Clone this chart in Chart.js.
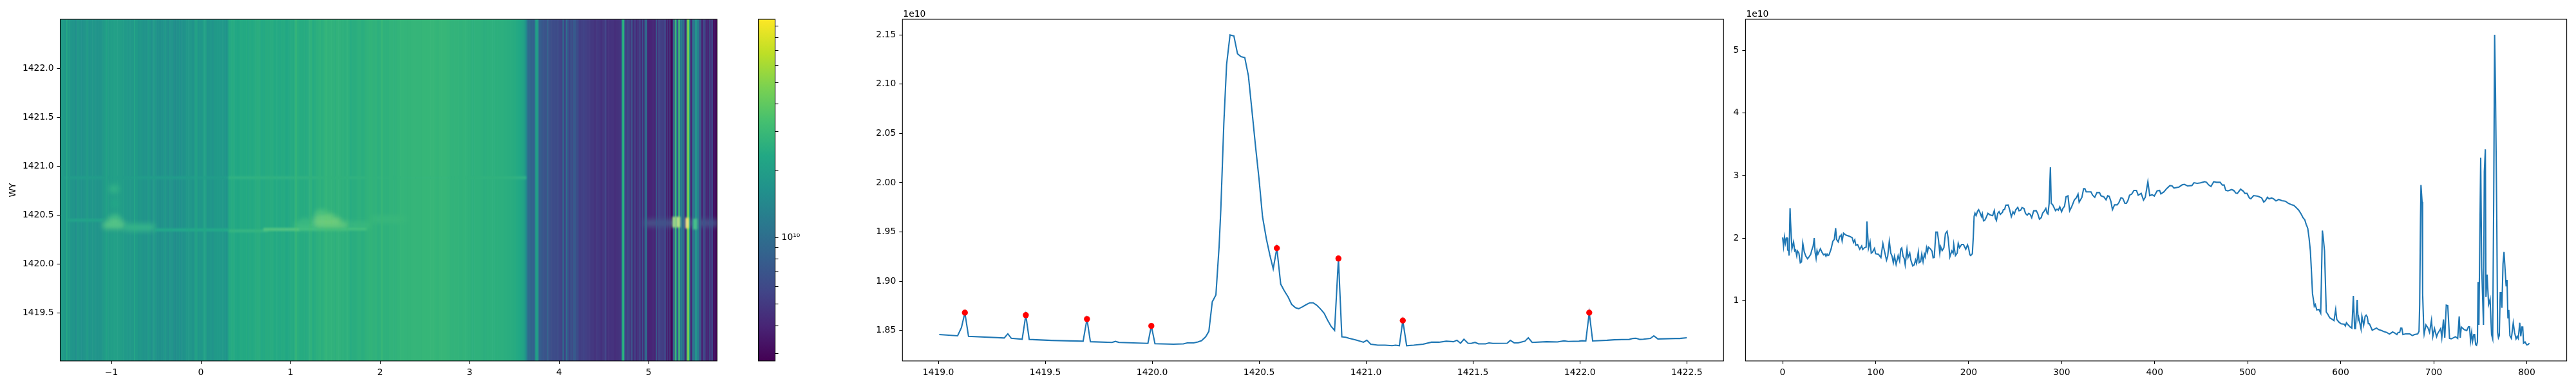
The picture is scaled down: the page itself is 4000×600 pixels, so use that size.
<!DOCTYPE html>
<html>
<head>
<meta charset="utf-8">
<title>WY spectrum</title>
<script src="https://cdn.jsdelivr.net/npm/chart.js@4/dist/chart.umd.min.js"></script>
<style>
  html, body { margin: 0; padding: 0; background: #fff; }
  body { position: relative; width: 4000px; height: 600px; overflow: hidden; }
  canvas { position: absolute; top: 0; }
</style>
</head>
<body>
<canvas id="heatChart" width="1130" height="600" style="left:0"></canvas>
<canvas id="barChart" width="90" height="600" style="left:1170px"></canvas>
<canvas id="profileChart" width="1345" height="600" style="left:1340px"></canvas>
<canvas id="spectrumChart" width="1320" height="600" style="left:2680px"></canvas>
<script>
// spectrum, values in units of 1e10, one vertex per row entry
const spectrumIdx = [
  0,1,2,3,4,5,5.5,6.5,7,8,
  8.5,10,11.8,13,14,15.2,16,17.5,19,20.3,
  21.7,23.3,25,26.8,28.6,30.2,31.4,32.8,34,34.9,
  36,37,38,40.6,42.2,44,45.7,46.6,47.8,48.7,
  49.9,52.2,54,55.6,57,58,59.8,61.4,62.3,63,
  64,65.5,67.9,71.8,74.8,76.2,77.6,78.7,80.6,82.9,
  85,86.1,88,89.8,90.7,92.3,94,95.3,96.7,98.8,
  100,103,105.7,107.8,109.2,111.7,113,114.7,116.3,117.7,
  119,120.3,122,124.2,125.8,127,128.1,129.5,130.7,131.8,
  133.7,134.8,136.7,138,139.9,141.5,142.9,144,145.9,146.8,
  148.4,149.6,151,152.4,153.3,154.7,155.8,156.7,158.8,160.7,
  161.8,163,164.8,166.4,167.6,169,169.9,171.5,173.4,175,
  176.8,178,179.8,181.9,183.3,184,185.8,187.7,188.8,190.2,
  192.5,194.4,196.9,198.8,199.9,201.3,202.2,204,205,205.9,
  206.8,208,209.6,210.8,211.9,213.8,214.7,216,217.2,218.8,
  220.7,223,225.8,227.6,228.8,229.9,231.3,232.7,234.1,236.4,
  237.3,238.7,239.9,242.6,244.2,245.9,247.7,249.1,250.7,252.8,
  254.2,256,257.4,259.5,261.1,263,264.6,266.2,267.8,269.9,
  272.6,274.2,276.1,278,279.6,281.2,283,284.4,285.3,286.5,
  287.9,288.8,290.4,293.4,295,296.4,298,299.9,301.5,303.1,
  304.7,306.8,308.6,310.7,313.7,315.8,317.6,318.8,321.8,323.6,
  325,326.4,329.6,331.5,333.3,335.6,337.9,340.7,342.3,345.3,
  347.7,349.5,351.1,353,354.6,356.9,359.7,361.5,363.8,365.7,
  368,369.6,371.2,373,375.3,377.7,380.4,382.3,385.5,388,
  389.9,392.7,394.7,397.3,399.6,402.6,405.3,406.7,410,412.7,
  416.4,418.7,420.8,426.1,429.6,431.9,435.3,440,442.3,445.7,
  449.2,453.8,455.7,458,460.5,463.5,466.5,470.4,472.7,474.6,
  476.4,478.7,482.7,485,487.3,488.9,492.4,495.4,497,499.3,
  501.8,503.4,506.4,511,515,517.3,519.1,521.2,523,525.8,
  528.1,530.4,533.4,536.9,540.4,543.8,547.3,549.6,551.9,554.9,
  557.7,559.5,561.4,562.8,564.6,566,567.4,568.6,569.7,571.1,
  571.6,572.7,574.3,576.6,578.5,579.2,580.3,581.3,582.6,584.5,
  586.1,588.2,591.2,592.8,594.6,595.8,598.1,600.4,603.9,605,
  606.2,608,610.3,612,613.6,615,615.9,617.7,618.7,619.3,
  620.7,621.9,622.8,624.7,626.3,627.4,628.6,629.7,630.9,633.9,
  636.2,638.5,640.8,644.3,646.6,649.4,652.4,655.8,658.1,660.4,
  661.8,663.4,664.6,665.7,666.9,669.7,674.3,677,679.4,682.8,
  684.2,684.9,685.8,686.3,687.5,688.1,689.3,689.7,691.6,693.9,
  695.5,697.6,699,700.8,703.1,704.3,707.5,708.7,710.5,711.9,
  713.5,715.1,717,718.8,720.4,723.4,725.8,727.4,728.5,729.7,
  732.7,735.5,737.3,738.5,739.6,740.8,741.7,743.1,744,745.1,
  746,747,747.7,748.6,750.5,751.6,753.5,754.4,755.5,756.2,
  757.4,759,760.6,762.2,763.4,764.5,765.5,766.4,767.8,768.7,
  769.6,770.5,771.5,772.4,773.3,774.5,775.6,777.5,777.9,778.8,
  779.8,780.7,781.9,783.5,785.5,786.9,788.5,789.7,790.9,792.5,
  793.6,794.8,795.7,796.6,798.2,800,801.2,802.9
];
const spectrumVal = [
  2.01,1.87,2.02,1.92,2.0,2.0,1.81,1.80,1.72,2.48,
  2.27,1.83,1.94,1.795,1.81,1.716,1.795,1.76,1.606,1.62,
  1.92,1.778,1.71,1.67,1.705,1.74,1.81,1.87,2.0,1.778,
  1.675,1.80,1.745,1.83,1.778,1.733,1.744,1.71,1.744,1.72,
  1.73,1.83,1.95,1.98,2.16,1.98,1.94,2.03,2.035,2.05,
  1.956,2.08,2.05,2.03,2.008,1.93,1.973,1.887,1.898,1.822,
  1.874,1.819,1.846,1.857,2.265,1.836,1.942,1.76,1.778,1.836,
  1.75,1.743,1.69,1.915,1.812,1.647,1.71,1.95,1.76,1.71,
  1.606,1.71,1.579,1.72,1.634,1.822,1.843,1.71,1.675,1.572,
  1.822,1.69,1.76,1.64,1.555,1.572,1.651,1.596,1.778,1.606,
  1.623,1.744,1.623,1.744,1.70,1.846,1.778,1.857,1.83,1.788,
  1.685,1.69,2.097,2.097,1.967,1.76,1.864,1.80,1.846,2.07,
  2.11,2.0,1.70,1.795,1.76,1.898,1.72,1.76,1.915,1.846,
  1.898,1.898,1.822,1.891,1.846,1.733,1.72,1.75,2.018,2.35,
  2.40,2.36,2.43,2.454,2.42,2.344,2.39,2.276,2.283,2.327,
  2.396,2.372,2.36,2.44,2.317,2.283,2.396,2.423,2.38,2.413,
  2.454,2.458,2.526,2.53,2.447,2.344,2.42,2.385,2.454,2.492,
  2.437,2.447,2.488,2.475,2.396,2.368,2.396,2.38,2.327,2.437,
  2.44,2.396,2.303,2.327,2.40,2.43,2.475,2.396,2.385,2.55,
  3.133,2.557,2.533,2.44,2.464,2.447,2.5,2.423,2.48,2.509,
  2.66,2.677,2.437,2.5,2.612,2.646,2.704,2.574,2.653,2.79,
  2.79,2.739,2.739,2.739,2.687,2.653,2.728,2.728,2.677,2.66,
  2.612,2.677,2.67,2.584,2.454,2.533,2.533,2.567,2.646,2.636,
  2.557,2.557,2.6,2.687,2.704,2.763,2.763,2.687,2.715,2.608,
  2.653,2.903,2.68,2.694,2.673,2.756,2.763,2.708,2.74,2.79,
  2.841,2.835,2.80,2.817,2.852,2.859,2.835,2.841,2.886,2.876,
  2.883,2.903,2.893,2.852,2.824,2.903,2.893,2.893,2.848,2.852,
  2.766,2.756,2.776,2.763,2.72,2.715,2.783,2.749,2.715,2.715,
  2.643,2.629,2.68,2.67,2.643,2.577,2.6,2.653,2.629,2.643,
  2.625,2.595,2.619,2.598,2.591,2.557,2.533,2.523,2.492,2.447,
  2.379,2.327,2.293,2.224,2.156,2.0,1.796,1.453,1.11,0.973,
  0.91,0.938,0.852,0.859,0.80,1.28,2.12,2.0,1.796,0.818,
  0.784,0.726,0.698,0.681,0.859,0.698,0.657,0.63,0.623,0.595,
  0.647,0.612,0.578,0.561,1.075,0.554,0.554,1.014,0.698,0.732,
  0.63,0.544,0.75,0.606,0.75,0.767,0.74,0.63,0.63,0.527,
  0.544,0.561,0.537,0.52,0.503,0.492,0.465,0.499,0.482,0.458,
  0.492,0.492,0.561,0.561,0.458,0.468,0.468,0.441,0.458,0.468,
  0.51,0.938,2.31,2.85,2.58,1.11,0.544,0.465,0.612,0.561,
  0.492,0.688,0.424,0.554,0.424,0.475,0.554,0.407,0.698,0.407,
  0.928,0.921,0.396,0.39,0.4,0.423,0.396,0.749,0.406,0.578,
  0.537,0.52,0.581,0.581,0.355,0.492,0.348,0.458,0.458,0.296,
  0.286,0.338,1.298,0.612,3.287,1.521,0.612,3.064,3.42,1.058,
  1.418,0.938,1.024,0.458,0.389,2.653,5.252,4.37,2.31,0.492,
  0.406,0.44,1.126,1.126,0.886,1.589,1.778,1.315,1.229,1.332,
  0.715,0.852,0.44,0.396,0.646,0.492,0.389,0.43,0.396,0.646,
  0.43,0.578,0.578,0.32,0.338,0.293,0.296,0.32
];

// wavelength profile, values in units of 1e10
const profileX = [
  1419.004,1419.09,1419.108,1419.124,1419.141,1419.308,1419.325,1419.341,1419.392,1419.409,
  1419.425,1419.528,1419.677,1419.695,1419.711,1419.812,1419.828,1419.845,1419.98,1419.996,
  1420.013,1420.1,1420.146,1420.164,1420.194,1420.214,1420.231,1420.25,1420.265,1420.281,
  1420.298,1420.313,1420.321,1420.335,1420.348,1420.364,1420.382,1420.399,1420.415,1420.433,
  1420.45,1420.469,1420.484,1420.5,1420.516,1420.534,1420.55,1420.566,1420.583,1420.601,
  1420.617,1420.636,1420.652,1420.67,1420.685,1420.703,1420.719,1420.737,1420.753,1420.77,
  1420.786,1420.804,1420.82,1420.837,1420.853,1420.871,1420.887,1420.905,1420.92,1420.956,
  1420.988,1421.004,1421.022,1421.055,1421.089,1421.122,1421.138,1421.156,1421.172,1421.19,
  1421.223,1421.267,1421.306,1421.341,1421.375,1421.409,1421.425,1421.442,1421.458,1421.477,
  1421.492,1421.51,1421.526,1421.559,1421.575,1421.593,1421.66,1421.675,1421.693,1421.711,
  1421.743,1421.759,1421.777,1421.844,1421.895,1421.926,1421.946,1421.996,1422.011,1422.028,
  1422.044,1422.06,1422.128,1422.161,1422.231,1422.248,1422.263,1422.281,1422.297,1422.33,
  1422.346,1422.365,1422.447,1422.467,1422.5
];
const profileVal = [
  1.8458,1.8445,1.8528,1.868,1.844,1.8423,1.8465,1.842,1.841,1.8655,
  1.8408,1.8398,1.839,1.8615,1.8385,1.8378,1.8388,1.8378,1.8368,1.8545,
  1.8365,1.836,1.8363,1.8373,1.8373,1.8383,1.8395,1.8435,1.849,1.879,
  1.886,1.9355,1.973,2.06,2.12,2.15,2.149,2.131,2.128,2.127,
  2.1085,2.068,2.0355,2.003,1.9655,1.943,1.9268,1.9125,1.9335,1.897,
  1.8905,1.8838,1.8765,1.873,1.872,1.874,1.876,1.878,1.878,1.8755,
  1.872,1.8675,1.8605,1.854,1.85,1.923,1.8435,1.843,1.842,1.840,
  1.838,1.84,1.836,1.835,1.835,1.8345,1.835,1.8345,1.860,1.8345,
  1.835,1.836,1.838,1.838,1.839,1.8385,1.84,1.837,1.841,1.837,
  1.8368,1.8378,1.8363,1.8363,1.8373,1.8368,1.837,1.8398,1.8373,1.8373,
  1.839,1.8425,1.8378,1.8385,1.8383,1.8393,1.8388,1.839,1.8395,1.8393,
  1.868,1.8393,1.84,1.8405,1.8408,1.8418,1.842,1.8408,1.841,1.8418,
  1.8445,1.8413,1.8418,1.8418,1.8425
];
const peakX = [1419.124,1419.409,1419.695,1419.996,1420.583,1420.871,1421.172,1422.044];
const peakVal = [1.868,1.8655,1.8615,1.8545,1.9335,1.923,1.860,1.868];

// bright patches over the stripes of the image: x from, x to, row, value (1e10)
const blobX0 = [-1.09,-1.03,-1.00,-1.02,-0.99,-0.85,1.05,1.10,1.27,1.27,1.28,1.29,1.65,1.90,4.95];
const blobX1 = [-0.85,-0.90,-0.92,-0.92,-0.93,-0.52,1.27,1.25,1.64,1.55,1.48,1.40,1.90,2.30,5.77];
const blobY  = [1420.40,1420.44,1420.47,1420.77,1420.62,1420.375,1420.39,1420.43,1420.40,1420.44,1420.48,1420.52,1420.40,1420.46,1420.42];
const blobV  = [3.8,3.8,3.2,2.8,2.35,2.9,3.3,3.0,4.0,4.6,4.2,3.5,3.0,2.95,0.72];
const lineX0 = [-1.57,0.31,-1.50,-0.52,0.31,0.70,1.10];
const lineX1 = [0.31,3.63,-1.00,0.31,0.75,1.10,1.85];
const lineY  = [1420.884,1420.884,1420.45,1420.35,1420.34,1420.355,1420.36];
const lineV  = [1.98,2.72,2.2,2.35,2.85,3.7,3.3];
const hotX0 = [5.27,5.31,5.415,5.50];
const hotX1 = [5.30,5.35,5.445,5.54];
const hotY  = [1420.43,1420.43,1420.42,1420.41];
const hotV  = [6.0,6.5,9.4,3.4];

const heatXTicks = [-1,0,1,2,3,4,5];
const heatYTicks = [1419.5,1420,1420.5,1421,1421.5,1422];
const profileXTicks = [1419,1419.5,1420,1420.5,1421,1421.5,1422,1422.5];
const profileYTicks = [1.85,1.9,1.95,2,2.05,2.1,2.15];
const spectrumXTicks = [0,100,200,300,400,500,600,700,800];
const spectrumYTicks = [1,2,3,4,5];
const barTicks = [0.3,0.4,0.5,0.6,0.7,0.8,0.9,1,2,3,4,5,6,7,8,9];

const viridisStops = ['#440154','#482475','#414487','#355f8d','#2a788e','#21918c','#22a884','#44bf70','#7ad151','#bddf26','#fde725'];
const barMin = 0.277;
const barMax = 9.65;

Chart.defaults.font.family = '"DejaVu Sans", sans-serif';
Chart.defaults.font.size = 13.9;
Chart.defaults.color = '#000';
Chart.defaults.animation = false;

function viridis(v) {
    let t = (Math.log10(v) - Math.log10(barMin)) / (Math.log10(barMax) - Math.log10(barMin));
    t = Math.min(1, Math.max(0, t)) * (viridisStops.length - 1);
    const i = Math.min(viridisStops.length - 2, Math.floor(t));
    const a = parseInt(viridisStops[i].slice(1), 16);
    const b = parseInt(viridisStops[i + 1].slice(1), 16);
    const f = t - i;
    const mix = (s) => Math.round(((a >> s) & 255) * (1 - f) + ((b >> s) & 255) * f);
    return 'rgb(' + mix(16) + ',' + mix(8) + ',' + mix(0) + ')';
}

const tickGrid = { drawOnChartArea: false, drawTicks: true, tickLength: 5, tickColor: '#000', tickWidth: 1.1 };

function axis(ticks, min, max, format, size, horizontal) {
    return {
        type: 'linear',
        min: min,
        max: max,
        offset: false,
        beginAtZero: false,
        grid: Object.assign({ offset: false }, tickGrid),
        border: { display: false },
        ticks: {
            autoSkip: false,
            maxRotation: 0,
            padding: 5,
            callback: format
        },
        afterBuildTicks: function (scale) {
            scale.ticks = ticks.map(function (v) { return { value: v }; });
        },
        afterFit: function (scale) {
            if (horizontal) scale.height = size; else scale.width = size;
        }
    };
}

const framePlugin = {
    id: 'frame',
    afterDraw: function (chart) {
        const a = chart.chartArea;
        const ctx = chart.ctx;
        ctx.save();
        ctx.strokeStyle = '#000';
        ctx.lineWidth = 1.1;
        ctx.strokeRect(a.left, a.top, a.right - a.left, a.bottom - a.top);
        ctx.restore();
    }
};

const exponentPlugin = {
    id: 'exponent',
    afterDraw: function (chart) {
        const ctx = chart.ctx;
        ctx.save();
        ctx.font = '13.9px "DejaVu Sans"';
        ctx.fillStyle = '#000';
        ctx.textBaseline = 'alphabetic';
        ctx.fillText('1e10', chart.chartArea.left + 1, chart.chartArea.top - 4);
        ctx.restore();
    }
};

// soft edges for the patches of the image; lighten keeps the bright stripes under them
const softPlugin = {
    id: 'soft',
    beforeDatasetDraw: function (chart, args) {
        const blur = chart.data.datasets[args.index].blur;
        if (blur) {
            chart.ctx.save();
            chart.ctx.filter = 'blur(' + blur + 'px)';
            chart.ctx.globalCompositeOperation = 'lighten';
        }
    },
    afterDatasetDraw: function (chart, args) {
        if (chart.data.datasets[args.index].blur) chart.ctx.restore();
    }
};

function spans(x0, x1, y) {
    return x0.map(function (v, i) { return { x: [v, x1[i]], y: y[i] }; });
}

// each stripe of the image runs halfway to its neighbours in the spectrum
const stripeData = spectrumIdx.map(function (v, i) {
    const from = i === 0 ? v : (spectrumIdx[i - 1] + v) / 2;
    const to = i === spectrumIdx.length - 1 ? 804 : (v + spectrumIdx[i + 1]) / 2;
    return { x: [from, to], y: 1420.76 };
});

new Chart(document.getElementById('heatChart'), {
    type: 'bar',
    data: {
        datasets: [
            { data: spans(hotX0, hotX1, hotY), xAxisID: 'x', barThickness: 16, blur: 1.5, borderWidth: 0, grouped: false,
              backgroundColor: function (c) { return viridis(hotV[c.dataIndex]); } },
            { data: spans(lineX0, lineX1, lineY), xAxisID: 'x', barThickness: 4, blur: 1.5, borderWidth: 0, grouped: false,
              backgroundColor: function (c) { return viridis(lineV[c.dataIndex]); } },
            { data: spans(blobX0, blobX1, blobY), xAxisID: 'x', barThickness: 10, blur: 4, borderWidth: 0, grouped: false,
              backgroundColor: function (c) { return viridis(blobV[c.dataIndex]); } },
            { data: stripeData, xAxisID: 'xIdx', barThickness: 560, borderWidth: 0, grouped: false,
              backgroundColor: function (c) { return viridis(spectrumVal[c.dataIndex]); } }
        ]
    },
    options: {
        indexAxis: 'y',
        responsive: false,
        layout: { padding: { left: 0, top: 30, right: 16.5, bottom: 0 } },
        plugins: { legend: { display: false }, tooltip: { enabled: false } },
        scales: {
            x: axis(heatXTicks, -1.572, 5.765, function (v) { return String(v).replace('-', '\u2212'); }, 39, true),
            xIdx: { type: 'linear', axis: 'x', display: false, min: 0, max: 801, beginAtZero: false },
            y: Object.assign(axis(heatYTicks, 1419.01, 1422.505, function (v) { return v.toFixed(1); }, 93.5, false), {
                title: { display: true, text: 'WY', padding: { top: 12, bottom: 0 } }
            })
        }
    },
    plugins: [softPlugin, framePlugin]
});

new Chart(document.getElementById('barChart'), {
    type: 'bar',
    data: {
        labels: [''],
        datasets: [{
            data: [[barMin, barMax]],
            barPercentage: 1,
            categoryPercentage: 1,
            borderWidth: 0,
            backgroundColor: function (c) {
                const a = c.chart.chartArea;
                if (!a) return viridisStops[0];
                const g = c.chart.ctx.createLinearGradient(0, a.bottom, 0, a.top);
                viridisStops.forEach(function (col, i) { g.addColorStop(i / (viridisStops.length - 1), col); });
                return g;
            }
        }]
    },
    options: {
        responsive: false,
        layout: { padding: { left: 7.6, top: 30, right: 0, bottom: 39 } },
        plugins: { legend: { display: false }, tooltip: { enabled: false } },
        scales: {
            x: { display: false },
            y: Object.assign(axis(barTicks, barMin, barMax, function (v) { return v === 1 ? '10\u00b9\u2070' : ''; }, 56.4, false), {
                type: 'logarithmic',
                position: 'right'
            })
        }
    },
    plugins: [framePlugin]
});

new Chart(document.getElementById('profileChart'), {
    type: 'line',
    data: {
        datasets: [
            {
                data: peakX.map(function (x, i) { return { x: x, y: peakVal[i] }; }),
                showLine: false,
                pointRadius: 4.7,
                pointBorderWidth: 0,
                pointBackgroundColor: '#ff0000'
            },
            {
                data: profileX.map(function (x, i) { return { x: x, y: profileVal[i] }; }),
                borderColor: '#1f77b4',
                borderWidth: 2.1,
                pointRadius: 0,
                tension: 0
            }
        ]
    },
    options: {
        responsive: false,
        layout: { padding: { left: 0, top: 30, right: 8.7, bottom: 0 } },
        plugins: { legend: { display: false }, tooltip: { enabled: false } },
        scales: {
            x: axis(profileXTicks, 1418.832, 1422.672, function (v) { return v.toFixed(1); }, 39, true),
            y: axis(profileYTicks, 1.819, 2.1659, function (v) { return v.toFixed(2); }, 61.3, false)
        }
    },
    plugins: [framePlugin, exponentPlugin]
});

new Chart(document.getElementById('spectrumChart'), {
    type: 'line',
    data: {
        datasets: [{
            data: spectrumIdx.map(function (x, i) { return { x: x, y: spectrumVal[i] }; }),
            borderColor: '#1f77b4',
            borderWidth: 2.1,
            pointRadius: 0,
            tension: 0
        }]
    },
    options: {
        responsive: false,
        layout: { padding: { left: 0, top: 30, right: 14.4, bottom: 0 } },
        plugins: { legend: { display: false }, tooltip: { enabled: false } },
        scales: {
            x: axis(spectrumXTicks, -39.9, 843, function (v) { return String(v); }, 39, true),
            y: axis(spectrumYTicks, 0.036, 5.5, function (v) { return String(v); }, 30.4, false)
        }
    },
    plugins: [framePlugin, exponentPlugin]
});
</script>
</body>
</html>
